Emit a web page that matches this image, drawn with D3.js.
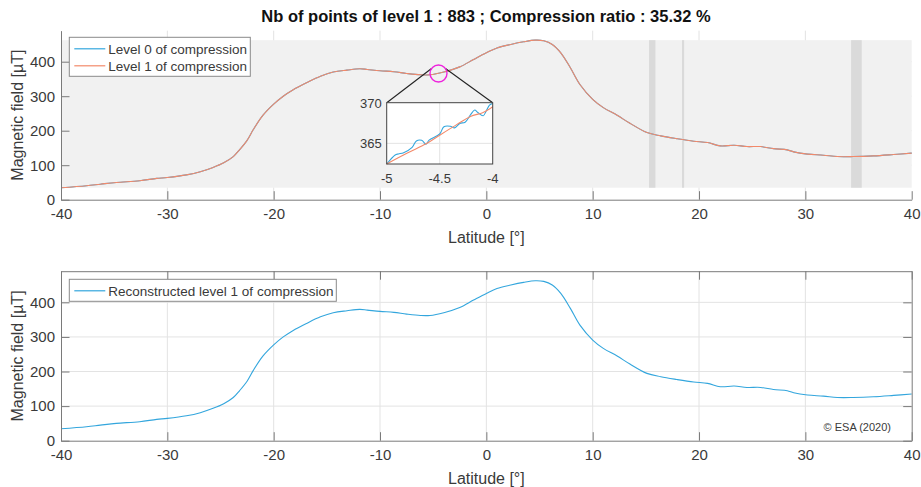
<!DOCTYPE html>
<html>
<head>
<meta charset="utf-8">
<script src="https://cdn.jsdelivr.net/npm/d3@7"></script>
<style>
  html, body { margin: 0; padding: 0; background: #fff; }
  svg { display: block; font-family: "Liberation Sans", Arial, sans-serif; }
  .tick text { fill: #3a3a3a; font-size: 15px; }
</style>
</head>
<body>
<svg id="chart" width="921" height="487"></svg>
<script>
// ── data ────────────────────────────────────────────────────────
const latitude = [-40, -37.6, -36.3, -34.8, -32.6, -31, -30, -28.2, -26.9, -25.7, -24.7, -23.8,
  -23.2, -22.5, -21.9, -21, -20, -19.1, -18.2, -16.9, -15.6, -14.4, -13.1, -11.9, -11.2, -10,
  -8.7, -7.5, -6.2, -5.3, -4, -2.5, -1.2, 0, 1, 2.3, 3.5, 4.6, 5.4, 6.2, 7, 7.9, 8.8, 10, 11,
  12.3, 13.5, 15.1, 16.4, 17.9, 19.5, 20.8, 22, 23.3, 24.5, 25.8, 27, 28.3, 28.9, 30.2, 31.7,
  33, 34.5, 36.4, 38.3, 40];
const field = [34.7, 40.5, 45, 50, 55, 61.7, 64.5, 72, 81, 93.5, 107, 125,
  145, 172, 204, 245, 277, 300, 318, 339, 358, 370, 375.7, 379.6, 377.6, 373.8,
  371, 366, 362, 362, 370, 385, 406.5, 425.8, 440, 450, 457.6, 462.4, 460.5, 450, 425.8, 382.5, 334, 291, 267,
  244.7, 221.6, 194.6, 185, 177, 169.6, 165.7, 156, 158, 154, 154, 148, 144.5, 138.7, 132, 129,
  125, 125, 127, 131, 135];

// zoomed window (-5 .. -4)
const zoomLat0 = [-5, -4.92, -4.89, -4.84, -4.76, -4.72, -4.67, -4.63, -4.6, -4.5, -4.46, -4.4,
  -4.36, -4.31, -4.26, -4.21, -4.17, -4.14, -4.09, -4.06, -4.03, -4];
const zoomField0 = [362.46, 363.57, 363.7, 363.85, 364.5, 365.3, 365.37, 364.9, 365.4, 366.15, 367.05, 367.1,
  366.9, 367.45, 367.6, 368.5, 369.1, 368.8, 368.4, 369.0, 369.7, 369.9];
const zoomLat1 = [-5, -4.81, -4.62, -4.5, -4.34, -4.21, -4.09, -4];
const zoomField1 = [362.46, 363.77, 365.0, 366.0, 367.3, 368.3, 368.8, 369.5];

// latitude ranges where level-1 points are densest (dark stripes)
const denseBands = [[15.3, 15.9], [18.4, 18.6], [34.3, 35.3]];

const xTicks = [-40, -30, -20, -10, 0, 10, 20, 30, 40];
const yTicks = [0, 100, 200, 300, 400];
const zoomXTicks = [-5, -4.5, -4];
const zoomYTicks = [365, 370];
const titleText = "Nb of points of level 1 : 883 ; Compression ratio : 35.32 %";

const C_BLUE = "#33a6dd", C_ORANGE = "#f3896a", AXIS = "#7a7a7a", GRID = "#e3e3e3", TXT = "#3a3a3a";

const svg = d3.select("#chart");
const fmt = d => String(d);
const TICK = 8.5;

function panel(yTop, yBottom) {
  const x = d3.scaleLinear().domain([-40, 40]).range([61, 911.7]);
  const y = d3.scaleLinear().domain([0, 490]).range([yBottom, yTop]);
  const g = svg.append("g");
  // grid
  g.append("g").selectAll("line").data(xTicks.slice(1, -1)).join("line")
    .attr("x1", d => x(d)).attr("x2", d => x(d)).attr("y1", y(0)).attr("y2", y(490))
    .attr("stroke", GRID).attr("stroke-width", 1);
  g.append("g").selectAll("line").data(yTicks.slice(1)).join("line")
    .attr("x1", x(-40)).attr("x2", x(40)).attr("y1", d => y(d)).attr("y2", d => y(d))
    .attr("stroke", GRID).attr("stroke-width", 1);
  return { x, y, g };
}

function axes(p, boxed) {
  const { x, y, g } = p;
  const ax = g.append("g").attr("transform", `translate(0,${y(0)})`)
    .call(d3.axisBottom(x).tickValues(xTicks).tickFormat(fmt).tickSizeInner(-TICK).tickSizeOuter(0).tickPadding(9));
  const ay = g.append("g").attr("transform", `translate(${x(-40)},0)`)
    .call(d3.axisLeft(y).tickValues(yTicks).tickFormat(fmt).tickSizeInner(-TICK).tickSizeOuter(0).tickPadding(6));
  [ax, ay].forEach(a => {
    a.select(".domain").attr("stroke", AXIS);
    a.selectAll(".tick line").attr("stroke", AXIS);
    a.selectAll(".tick text").attr("fill", TXT).style("font-size", "15px");
  });
  if (boxed) {
    const at = g.append("g").attr("transform", `translate(0,${y(490)})`)
      .call(d3.axisTop(x).tickValues(xTicks).tickFormat("").tickSizeInner(-TICK).tickSizeOuter(0));
    const ar = g.append("g").attr("transform", `translate(${x(40)},0)`)
      .call(d3.axisRight(y).tickValues(yTicks).tickFormat("").tickSizeInner(-TICK).tickSizeOuter(0));
    [at, ar].forEach(a => {
      a.select(".domain").attr("stroke", AXIS);
      a.selectAll(".tick line").attr("stroke", AXIS);
    });
  }
  g.append("text").attr("transform", `translate(23,${(y(0) + y(490)) / 2}) rotate(-90)`)
    .attr("text-anchor", "middle").attr("fill", TXT).style("font-size", "16px")
    .text("Magnetic field [µT]");
  g.append("text").attr("x", (x(-40) + x(40)) / 2).attr("y", y(0) + 43)
    .attr("text-anchor", "middle").attr("fill", TXT).style("font-size", "16px")
    .text("Latitude [°]");
}

function legend(g, x0, y0, w, entries) {
  const rowH = 17;
  g.append("rect").attr("x", x0).attr("y", y0).attr("width", w).attr("height", entries.length * rowH + 5)
    .attr("fill", "#fff").attr("stroke", "#8a8a8a").attr("stroke-width", 1);
  entries.forEach((e, i) => {
    const cy = y0 + 11.5 + i * rowH;
    g.append("line").attr("x1", x0 + 5).attr("x2", x0 + 36).attr("y1", cy).attr("y2", cy)
      .attr("stroke", e.color).attr("stroke-width", 1.2);
    g.append("text").attr("x", x0 + 39).attr("y", cy + 5).attr("fill", TXT)
      .style("font-size", "13.5px").text(e.label);
  });
}

const pts = latitude.map((d, i) => [d, field[i]]);

// ── top panel ──────────────────────────────────────────────────
const topPanel = panel(30.65, 199.7);
{
  const { x, y, g } = topPanel;
  const [fmin, fmax] = d3.extent(field);
  // level-1 sample positions: dense stripes over the field range
  g.append("rect").attr("x", x(-40)).attr("width", x(40) - x(-40))
    .attr("y", y(fmax)).attr("height", y(fmin) - y(fmax)).attr("fill", "#f1f1f1");
  g.append("g").selectAll("rect").data(denseBands).join("rect")
    .attr("x", d => x(d[0])).attr("width", d => x(d[1]) - x(d[0]))
    .attr("y", y(fmax)).attr("height", y(fmin) - y(fmax)).attr("fill", "#dadada");

  const line = d3.line().x(d => x(d[0])).y(d => y(d[1])).curve(d3.curveCatmullRom.alpha(0.5));
  g.append("path").datum(pts).attr("d", line).attr("fill", "none").attr("stroke", C_BLUE).attr("stroke-width", 1.1);
  g.append("path").datum(pts).attr("d", line).attr("fill", "none").attr("stroke", C_ORANGE).attr("stroke-width", 1.1);
  axes(topPanel, false);
  legend(g, 69.3, 37.3, 181, [
    { label: "Level 0 of compression", color: C_BLUE },
    { label: "Level 1 of compression", color: C_ORANGE }
  ]);

  // zoom marker
  const cx = x(-4.5), cy = y(366), r = 8.5;
  const ix = d3.scaleLinear().domain([-5, -4]).range([386.7, 492.7]);
  const iy = d3.scaleLinear().domain([362.46, 370]).range([164, 102.7]);
  const a = 35 * Math.PI / 180;
  g.append("line").attr("x1", cx - r * Math.cos(a)).attr("y1", cy - r * Math.sin(a))
    .attr("x2", ix(-5)).attr("y2", iy(370)).attr("stroke", "#222").attr("stroke-width", 1.1);
  g.append("line").attr("x1", cx + r * Math.cos(a)).attr("y1", cy - r * Math.sin(a))
    .attr("x2", ix(-4)).attr("y2", iy(370)).attr("stroke", "#222").attr("stroke-width", 1.1);
  g.append("circle").attr("cx", cx).attr("cy", cy).attr("r", r)
    .attr("fill", "none").attr("stroke", "#ee22dd").attr("stroke-width", 1.4);

  // inset axes
  const ig = g.append("g");
  ig.append("rect").attr("x", ix(-5)).attr("y", iy(370)).attr("width", ix(-4) - ix(-5))
    .attr("height", iy(362.46) - iy(370)).attr("fill", "#fff");
  ig.append("line").attr("x1", ix(-4.5)).attr("x2", ix(-4.5)).attr("y1", iy(362.46)).attr("y2", iy(370)).attr("stroke", GRID);
  ig.append("line").attr("x1", ix(-5)).attr("x2", ix(-4)).attr("y1", iy(365)).attr("y2", iy(365)).attr("stroke", GRID);
  const il = d3.line().x(d => ix(d[0])).y(d => iy(d[1])).curve(d3.curveCatmullRom.alpha(0.5));
  ig.append("path").datum(zoomLat0.map((d, i) => [d, zoomField0[i]])).attr("d", il)
    .attr("fill", "none").attr("stroke", C_BLUE).attr("stroke-width", 1.1);
  ig.append("path").datum(zoomLat1.map((d, i) => [d, zoomField1[i]])).attr("d", il)
    .attr("fill", "none").attr("stroke", C_ORANGE).attr("stroke-width", 1.1);
  ig.append("rect").attr("x", ix(-5)).attr("y", iy(370)).attr("width", ix(-4) - ix(-5))
    .attr("height", iy(362.46) - iy(370)).attr("fill", "none").attr("stroke", "#444").attr("stroke-width", 1);
  ig.append("g").selectAll("text").data(zoomXTicks).join("text")
    .attr("x", d => ix(d)).attr("y", iy(362.46) + 19).attr("text-anchor", "middle")
    .attr("fill", TXT).style("font-size", "13px").text(fmt);
  ig.append("g").selectAll("text").data(zoomYTicks).join("text")
    .attr("x", ix(-5) - 5).attr("y", d => iy(d) + 5).attr("text-anchor", "end")
    .attr("fill", TXT).style("font-size", "13px").text(fmt);
}

// ── bottom panel ───────────────────────────────────────────────
const botPanel = panel(271.2, 440.7);
{
  const { x, y, g } = botPanel;
  const line = d3.line().x(d => x(d[0])).y(d => y(d[1])).curve(d3.curveCatmullRom.alpha(0.5));
  g.append("path").datum(pts).attr("d", line).attr("fill", "none").attr("stroke", C_BLUE).attr("stroke-width", 1.1);
  axes(botPanel, true);
  legend(g, 69.3, 279.3, 267, [{ label: "Reconstructed level 1 of compression", color: C_BLUE }]);
  g.append("text").attr("x", 891).attr("y", 431).attr("text-anchor", "end")
    .attr("fill", TXT).style("font-size", "11px").text("© ESA (2020)");
}

svg.append("text").attr("x", 486).attr("y", 22).attr("text-anchor", "middle")
  .attr("fill", "#111").style("font-size", "16.5px").style("font-weight", "bold").text(titleText);
</script>
</body>
</html>
